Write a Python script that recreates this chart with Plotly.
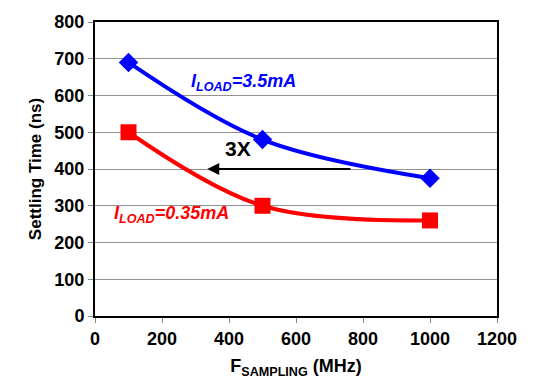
import plotly.graph_objects as go

freq = [100, 500, 1000]
t_3p5 = [690, 480, 375]
t_0p35 = [500, 300, 260]
x_ticks = [0, 200, 400, 600, 800, 1000, 1200]
y_ticks = [0, 100, 200, 300, 400, 500, 600, 700, 800]

FONT = "Liberation Sans, Arial, sans-serif"

fig = go.Figure()
fig.add_trace(go.Scatter(x=freq, y=t_3p5, mode="lines+markers",
                         line=dict(color="#0000FF", width=4, shape="spline"),
                         marker=dict(symbol="diamond", size=15, color="#0000FF"),
                         showlegend=False))
fig.add_trace(go.Scatter(x=freq, y=t_0p35, mode="lines+markers",
                         line=dict(color="#FF0000", width=4, shape="spline"),
                         marker=dict(symbol="square", size=16, color="#FF0000"),
                         showlegend=False))

fig.add_annotation(x=442, y=636, text="<i>I<sub>LOAD</sub>=3.5mA</i>",
                   showarrow=False, font=dict(family=FONT, size=18, color="#0000FF", weight="bold"))
fig.add_annotation(x=228, y=276, text="<i>I<sub>LOAD</sub>=0.35mA</i>",
                   showarrow=False, font=dict(family=FONT, size=18, color="#FF0000", weight="bold"))
fig.add_annotation(x=427, y=456, text="3X",
                   showarrow=False, font=dict(family=FONT, size=21, color="black", weight="bold"))
fig.add_annotation(x=335, y=400, ax=767, ay=400, xref="x", yref="y", axref="x", ayref="y",
                   text="", showarrow=True, arrowhead=2, arrowsize=1.2, arrowwidth=2,
                   arrowcolor="black")

fig.update_layout(
    width=548, height=386,
    margin=dict(l=95, r=51, t=12, b=70),
    paper_bgcolor="white", plot_bgcolor="white",
    font=dict(family=FONT, size=18, color="black", weight="bold"),
    xaxis=dict(range=[0, 1200], tickvals=x_ticks, showgrid=False, zeroline=False,
               ticks="outside", ticklen=5, tickcolor="#888",
               tickfont=dict(size=18, weight="bold"),
               showline=True, linecolor="black", linewidth=2, mirror=True,
               title=dict(text="F<sub>SAMPLING</sub> (MHz)", font=dict(size=18, weight="bold"), standoff=12)),
    yaxis=dict(range=[0, 800], tickvals=y_ticks, showgrid=True, gridcolor="#909090", gridwidth=1,
               zeroline=False, ticks="outside", ticklen=5, tickcolor="#888",
               tickfont=dict(size=18, weight="bold"),
               showline=True, linecolor="black", linewidth=2, mirror=True,
               title=dict(text="Settling Time (ns)", font=dict(size=17, weight="bold"), standoff=8)),
)

fig.write_html("out.html")
